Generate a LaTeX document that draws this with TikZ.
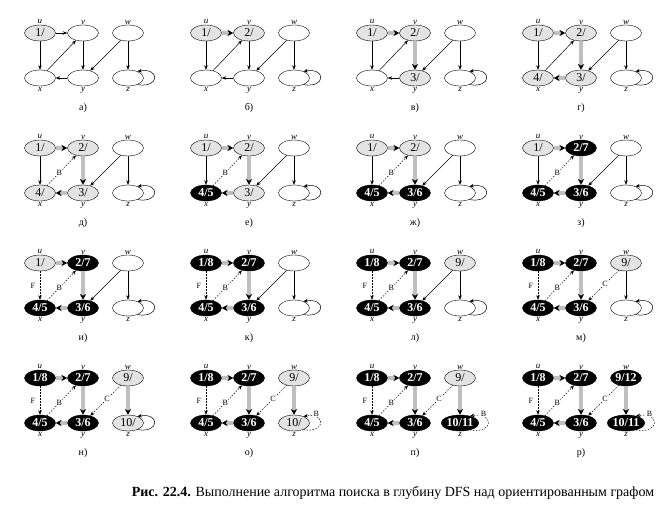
\documentclass[tikz,border=0pt]{standalone}
\usepackage{fontspec}
\setmainfont{Liberation Serif}
\usetikzlibrary{shapes.geometric,arrows.meta}
\tikzset{
  vtx/.style={draw, ellipse, minimum width=31pt, minimum height=16pt, inner sep=0pt, font=\fontsize{12}{12}\selectfont},
  whiteV/.style={fill=white},
  grayV/.style={fill=gray!22},
  blackV/.style={fill=black, text=white, font=\fontsize{12}{12}\selectfont\bfseries},
  vname/.style={font=\fontsize{9}{9}\selectfont\itshape, inner sep=0.5pt},
  labove/.style={label distance=0.5pt},
  lbelow/.style={label distance=4.5pt},
  panelcap/.style={font=\fontsize{10}{10}\selectfont},
  elbl/.style={font=\fontsize{8}{8}\selectfont, fill=white, inner sep=0.6pt},
  plainE/.style={draw, line width=0.5pt, -{Stealth[length=4.5pt,width=3.5pt]}},
  treeE/.style={draw=gray!50, line width=4.5pt, -{Stealth[length=6pt,width=6.5pt,line width=0pt,black]}},
  dashE/.style={plainE, dash pattern=on 1.5pt off 1.5pt},
  backE/.style={dashE, edge node={node[elbl, pos=0.42]{B}}},
  fwdE/.style={dashE, edge node={node[elbl, left=4pt]{F}}},
  crossE/.style={dashE, edge node={node[elbl, pos=0.45]{C}}},
  loopE/.style={dashE, edge node={node[elbl, pos=0.75, above]{B}}},
  loopz/.style={out=-10, in=10, looseness=4.5}
}
\newcommand{\dfsvertex}[6]{\node[vtx,#5,l#3,label={[vname]#3:#4}] (#1) at (#2) {#6};}
\newcommand{\dfsnodes}[9]{%
  \begin{scope}[shift={(#2)}]
    \dfsvertex{u#1}{0,0}{above}{u}#4
    \dfsvertex{v#1}{43,0}{above}{v}#5
    \dfsvertex{w#1}{88,0}{above}{w}#6
    \dfsvertex{x#1}{0,-45}{below}{x}#7
    \dfsvertex{y#1}{43,-45}{below}{y}#8
    \dfsvertex{z#1}{88,-45}{below}{z}#9
    \node[panelcap] (cap#1) at (43,-75) {#3};
  \end{scope}}
\newcommand{\dfsedges}[9]{%
  \path (u#1) edge[#2] (v#1);
  \path (u#1) edge[#3] (x#1);
  \path (x#1) edge[#4] (v#1);
  \path (v#1) edge[#5] (y#1);
  \path (y#1) edge[#6] (x#1);
  \path (w#1) edge[#7] (y#1);
  \path (w#1) edge[#8] (z#1);
  \path (z#1.-35) edge[#9, loopz] (z#1.35);}
\begin{document}
\begin{tikzpicture}[x=1pt, y=1pt]
\useasboundingbox[fill=white] (0,0) rectangle (667,515);

\dfsnodes{a}{40,482}{а)}{{grayV}{1/}}{{whiteV}{}}{{whiteV}{}}{{whiteV}{}}{{whiteV}{}}{{whiteV}{}}
\dfsnodes{b}{206,482}{б)}{{grayV}{1/}}{{grayV}{2/}}{{whiteV}{}}{{whiteV}{}}{{whiteV}{}}{{whiteV}{}}
\dfsnodes{c}{372,482}{в)}{{grayV}{1/}}{{grayV}{2/}}{{whiteV}{}}{{whiteV}{}}{{grayV}{3/}}{{whiteV}{}}
\dfsnodes{d}{538,482}{г)}{{grayV}{1/}}{{grayV}{2/}}{{whiteV}{}}{{grayV}{4/}}{{grayV}{3/}}{{whiteV}{}}
\dfsnodes{e}{40,367}{д)}{{grayV}{1/}}{{grayV}{2/}}{{whiteV}{}}{{grayV}{4/}}{{grayV}{3/}}{{whiteV}{}}
\dfsnodes{f}{206,367}{е)}{{grayV}{1/}}{{grayV}{2/}}{{whiteV}{}}{{blackV}{4/5}}{{grayV}{3/}}{{whiteV}{}}
\dfsnodes{g}{372,367}{ж)}{{grayV}{1/}}{{grayV}{2/}}{{whiteV}{}}{{blackV}{4/5}}{{blackV}{3/6}}{{whiteV}{}}
\dfsnodes{h}{538,367}{з)}{{grayV}{1/}}{{blackV}{2/7}}{{whiteV}{}}{{blackV}{4/5}}{{blackV}{3/6}}{{whiteV}{}}
\dfsnodes{i}{40,252}{и)}{{grayV}{1/}}{{blackV}{2/7}}{{whiteV}{}}{{blackV}{4/5}}{{blackV}{3/6}}{{whiteV}{}}
\dfsnodes{j}{206,252}{к)}{{blackV}{1/8}}{{blackV}{2/7}}{{whiteV}{}}{{blackV}{4/5}}{{blackV}{3/6}}{{whiteV}{}}
\dfsnodes{k}{372,252}{л)}{{blackV}{1/8}}{{blackV}{2/7}}{{grayV}{9/}}{{blackV}{4/5}}{{blackV}{3/6}}{{whiteV}{}}
\dfsnodes{l}{538,252}{м)}{{blackV}{1/8}}{{blackV}{2/7}}{{grayV}{9/}}{{blackV}{4/5}}{{blackV}{3/6}}{{whiteV}{}}
\dfsnodes{m}{40,137}{н)}{{blackV}{1/8}}{{blackV}{2/7}}{{grayV}{9/}}{{blackV}{4/5}}{{blackV}{3/6}}{{grayV}{10/}}
\dfsnodes{n}{206,137}{о)}{{blackV}{1/8}}{{blackV}{2/7}}{{grayV}{9/}}{{blackV}{4/5}}{{blackV}{3/6}}{{grayV}{10/}}
\dfsnodes{o}{372,137}{п)}{{blackV}{1/8}}{{blackV}{2/7}}{{grayV}{9/}}{{blackV}{4/5}}{{blackV}{3/6}}{{blackV}{10/11}}
\dfsnodes{p}{538,137}{р)}{{blackV}{1/8}}{{blackV}{2/7}}{{blackV}{9/12}}{{blackV}{4/5}}{{blackV}{3/6}}{{blackV}{10/11}}

\dfsedges{a}{plainE}{plainE}{plainE}{plainE}{plainE}{plainE}{plainE}{plainE}
\dfsedges{b}{treeE}{plainE}{plainE}{plainE}{plainE}{plainE}{plainE}{plainE}
\dfsedges{c}{treeE}{plainE}{plainE}{treeE}{plainE}{plainE}{plainE}{plainE}
\dfsedges{d}{treeE}{plainE}{plainE}{treeE}{treeE}{plainE}{plainE}{plainE}
\dfsedges{e}{treeE}{plainE}{backE}{treeE}{treeE}{plainE}{plainE}{plainE}
\dfsedges{f}{treeE}{plainE}{backE}{treeE}{treeE}{plainE}{plainE}{plainE}
\dfsedges{g}{treeE}{plainE}{backE}{treeE}{treeE}{plainE}{plainE}{plainE}
\dfsedges{h}{treeE}{plainE}{backE}{treeE}{treeE}{plainE}{plainE}{plainE}
\dfsedges{i}{treeE}{fwdE}{backE}{treeE}{treeE}{plainE}{plainE}{plainE}
\dfsedges{j}{treeE}{fwdE}{backE}{treeE}{treeE}{plainE}{plainE}{plainE}
\dfsedges{k}{treeE}{fwdE}{backE}{treeE}{treeE}{plainE}{plainE}{plainE}
\dfsedges{l}{treeE}{fwdE}{backE}{treeE}{treeE}{crossE}{plainE}{plainE}
\dfsedges{m}{treeE}{fwdE}{backE}{treeE}{treeE}{crossE}{treeE}{plainE}
\dfsedges{n}{treeE}{fwdE}{backE}{treeE}{treeE}{crossE}{treeE}{loopE}
\dfsedges{o}{treeE}{fwdE}{backE}{treeE}{treeE}{crossE}{treeE}{loopE}
\dfsedges{p}{treeE}{fwdE}{backE}{treeE}{treeE}{crossE}{treeE}{loopE}

\node[font=\fontsize{14}{14}\selectfont] (title) at (393,22) {\textbf{Рис. 22.4.} Выполнение алгоритма поиска в глубину DFS над ориентированным графом};
\end{tikzpicture}
\end{document}
